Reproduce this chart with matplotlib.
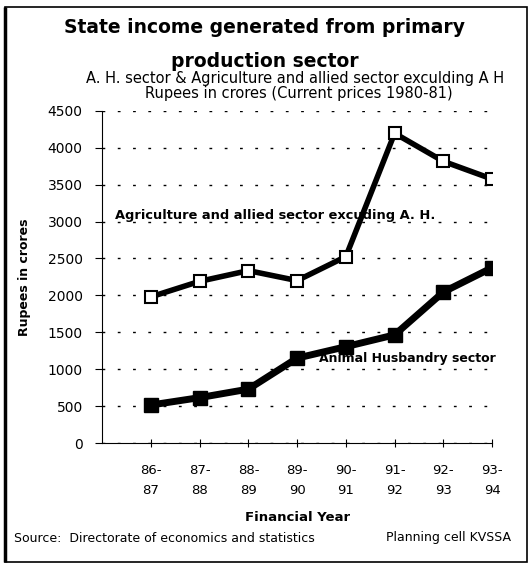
import matplotlib
matplotlib.use("Agg")
import matplotlib.pyplot as plt
from matplotlib.patches import Rectangle

years = ["86-\n87", "87-\n88", "88-\n89", "89-\n90", "90-\n91", "91-\n92", "92-\n93", "93-\n94"]
agri = [1980, 2190, 2335, 2200, 2525, 4195, 3815, 3575]
ah = [515, 615, 730, 1150, 1305, 1465, 2045, 2375]
yticks = [0, 500, 1000, 1500, 2000, 2500, 3000, 3500, 4000, 4500]

plt.rcParams['font.family'] = ['DejaVu Sans']

fig = plt.figure(figsize=(5.32, 5.68), dpi=100)
ax = fig.add_axes([0.192, 0.220, 0.733, 0.585])

x = list(range(len(years)))
ax.plot(x, agri, color='black', lw=4, marker='s', ms=9, mfc='white',
        mec='black', mew=1.5, zorder=3)
ax.plot(x, ah, color='black', lw=5, marker='s', ms=10, mfc='black',
        mec='black', zorder=3)

ax.set_xlim(-1, 7)
ax.set_ylim(0, 4500)
ax.set_yticks(yticks)
ax.set_xticks(x)
ax.set_xticklabels(years, fontsize=9.5, linespacing=1.7)
ax.tick_params(axis='y', labelsize=10, length=5, width=0.8, direction='out', pad=9)
ax.tick_params(axis='x', length=6, width=0.8, direction='inout', pad=12)

for s in ['top', 'right']:
    ax.spines[s].set_visible(False)
ax.spines['left'].set_linewidth(0.8)
ax.spines['left'].set_linestyle((0, (6, 1)))
ax.spines['bottom'].set_linewidth(0.8)
ax.yaxis.grid(True, color='black', linestyle=(0, (2, 9)), linewidth=1.0)
ax.set_axisbelow(True)

ax.set_ylabel("Rupees in crores", fontsize=9, fontweight='bold', labelpad=12)
ax.set_xlabel("Financial Year", fontsize=9.5, fontweight='bold', labelpad=10)

ax.text(0.033, 0.685, "Agriculture and allied sector excuding A. H.",
        transform=ax.transAxes, fontsize=9.4, fontweight='bold', va='center', ha='left')
ax.text(0.555, 0.253, "Animal Husbandry sector",
        transform=ax.transAxes, fontsize=9, fontweight='bold', va='center', ha='left')

fig.text(0.497, 0.951, "State income generated from primary", ha='center', va='center',
         fontsize=13.5, fontweight='bold')
fig.text(0.497, 0.891, "production sector", ha='center', va='center',
         fontsize=13.5, fontweight='bold')
fig.text(0.555, 0.862, "A. H. sector & Agriculture and allied sector exculding A H",
         ha='center', va='center', fontsize=10.5)
fig.text(0.562, 0.836, "Rupees in crores (Current prices 1980-81)",
         ha='center', va='center', fontsize=10.5)
fig.text(0.026, 0.052, "Source:  Directorate of economics and statistics",
         ha='left', va='center', fontsize=9)
fig.text(0.96, 0.054, "Planning cell KVSSA", ha='right', va='center', fontsize=9)

fig.patches.append(Rectangle((0.009, 0.010), 0.982, 0.978, transform=fig.transFigure,
                             fill=False, edgecolor='black', linewidth=1.2))
fig.patches.append(Rectangle((0.009, 0.010), 0.0, 0.978, transform=fig.transFigure,
                             fill=False, edgecolor='black', linewidth=2.5))

fig.savefig("out.png", dpi=100)
